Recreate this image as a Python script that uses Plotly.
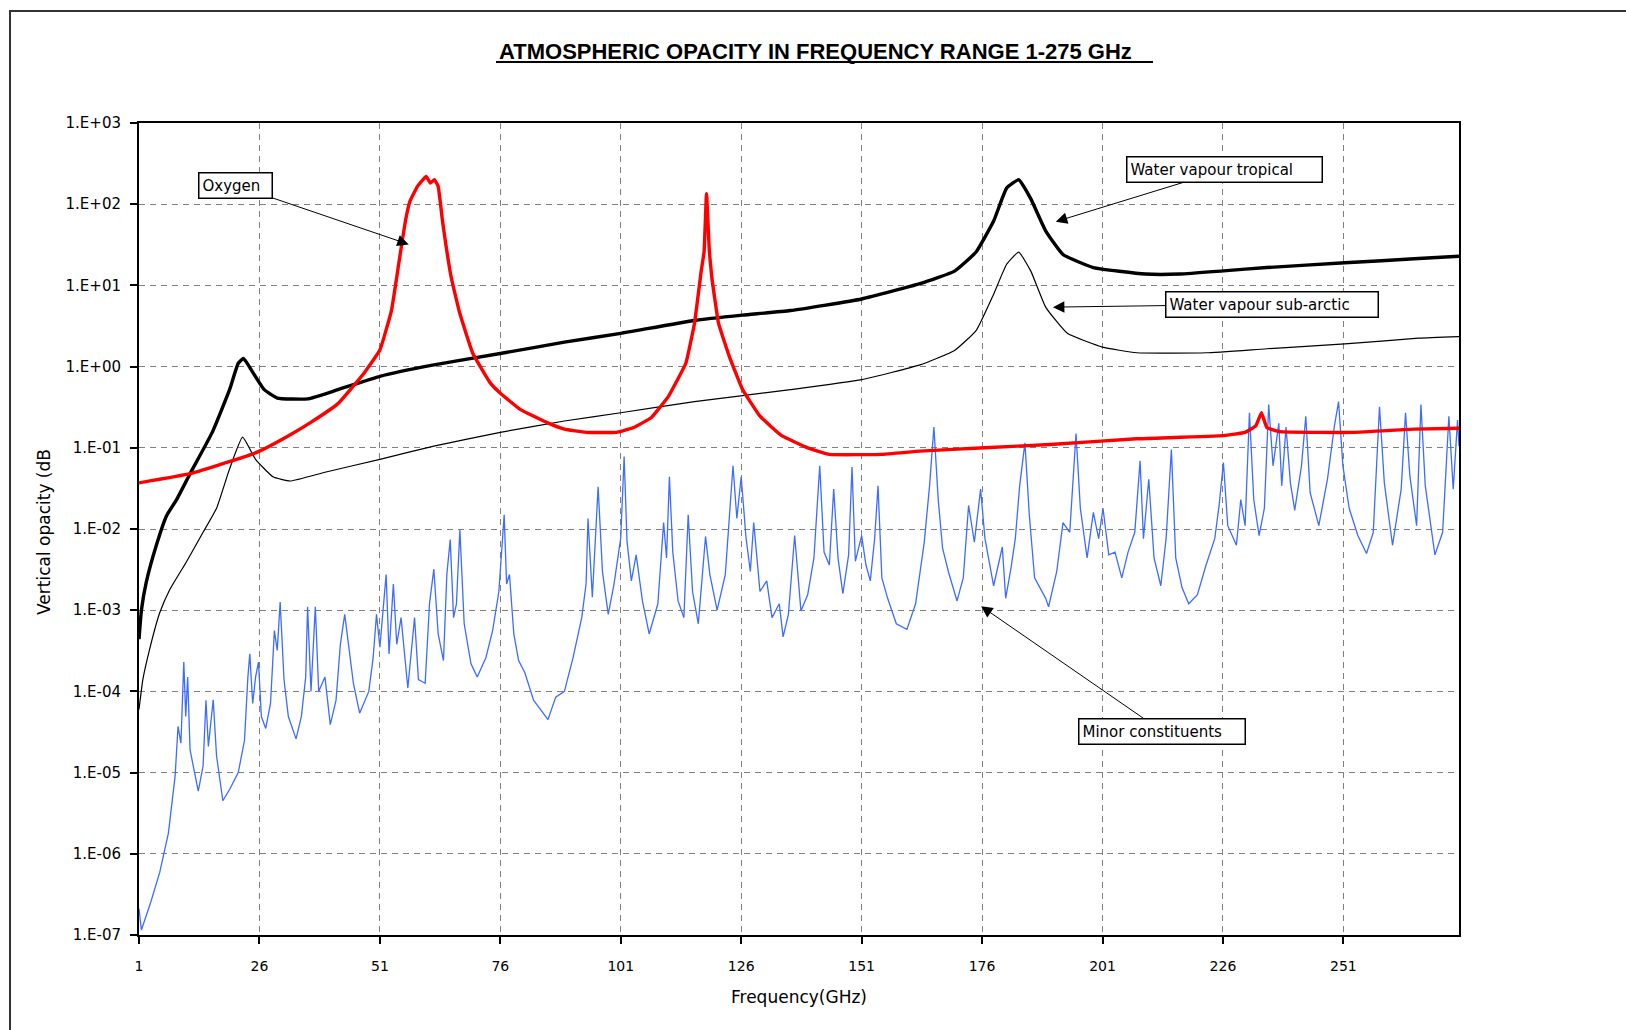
import math
import plotly.graph_objects as go

# ---------------- data ----------------
oxygen_f = [1, 11.6, 22.5, 26, 31.5, 36.9, 42.3, 47.7, 51, 53.4, 55.0, 56.3, 57.2, 58.8, 59.6,
            60.6, 61.5, 62.3, 63.1, 64, 65.8, 67.6, 70.3, 73.9, 76, 80.2, 85.7, 89.3, 93.8,
            100.1, 103.7, 107.3, 110.9, 114.5, 116.3, 117.7, 118.3, 118.8, 119.4, 119.9,
            121.3, 123.6, 126.3, 129.9, 134.4, 139.8, 144.3, 155, 163.1, 176.6, 190.1, 208.1,
            226.1, 230.6, 232.8, 234, 235.1, 237.8, 253.1, 265.7, 275]
oxygen_v = [3.7e-2, 4.8e-2, 7.6e-2, 9.1e-2, 0.135, 0.21, 0.35, 0.83, 1.6, 4.9, 20, 62, 107, 166, 190,
            219, 182, 200, 166, 62, 12.6, 4.5, 1.45, 0.63, 0.47, 0.295, 0.204, 0.17, 0.155,
            0.155, 0.178, 0.234, 0.43, 1.1, 3.4, 15, 26, 135, 26, 12.6,
            3.4, 1.3, 0.52, 0.245, 0.141, 0.10, 0.083, 0.083, 0.091, 0.100, 0.11, 0.129,
            0.141, 0.155, 0.186, 0.27, 0.178, 0.158, 0.155, 0.17, 0.174]

tropical_f = [1, 1.5, 2.5, 4.6, 6.7, 8.8, 11.6, 16.2, 19.8, 21.6, 22.7, 24.3, 27, 29.7, 36, 42.3,
              51, 62.2, 76, 89.3, 101, 116.3, 126.3, 136.2, 151, 163.1, 170.3, 174.8, 178.4,
              181.1, 183.6, 186.1, 189.2, 192.8, 199.1, 209.9, 217.1, 226.1, 235.1, 251.3,
              266.6, 275]
tropical_v = [4.4e-4, 1.0e-3, 2.2e-3, 6.3e-3, 1.45e-2, 2.3e-2, 4.8e-2, 0.155, 0.52, 1.1, 1.26, 0.91,
              0.52, 0.41, 0.40, 0.52, 0.76, 1.05, 1.45, 2.0, 2.57, 3.7, 4.3, 4.9, 6.8, 10.5, 15,
              26, 62, 158, 200, 117, 47, 24, 16.6, 13.8, 13.8, 15.1, 16.6, 19, 21.4, 22.9]

subarctic_f = [1, 1.8, 3.2, 5.3, 7.4, 10.8, 14.3, 17.1, 19.8, 22.5, 25.2, 28.8, 32.4, 39.6, 51,
               62.2, 76, 89.3, 101, 116.3, 126.3, 136.2, 151, 163.1, 170.3, 174.8, 178.4, 181.1,
               183.6, 186.1, 189.2, 193.7, 201, 208.1, 222.5, 235.1, 251.3, 266.6, 275]
subarctic_v = [6.0e-5, 1.4e-4, 3.3e-4, 9.3e-4, 1.8e-3, 3.9e-3, 9.1e-3, 1.8e-2, 5.5e-2, 0.135,
               7.2e-2, 4.4e-2, 3.9e-2, 5.0e-2, 7.2e-2, 0.105, 0.155, 0.214, 0.27, 0.37, 0.44,
               0.52, 0.69, 1.05, 1.58, 2.8, 7.8, 18.2, 25.7, 15.1, 5.4, 2.57, 1.74, 1.48, 1.48,
               1.66, 1.9, 2.24, 2.34]

minor_f = [1, 1.5, 3.5, 5.3, 7.1, 8.5, 9.1, 9.7, 10.3, 10.7, 11.1, 11.6, 13.3, 14.3, 14.9, 15.4,
           16.4, 17.1, 18.4, 19.8, 21.6, 22.9, 23.6, 24, 24.6, 25.2, 25.8, 26.4, 27.3, 28.3,
           29.1, 29.7, 30.3, 31.1, 32, 33.6, 34.7, 35.6, 36, 36.7, 37.6, 38.3, 39.6, 40.7,
           41.9, 42.8, 43.7, 44.6, 45.5, 46.8, 48.7, 49.6, 50.3, 51, 52.3, 52.9, 53.8, 54.5,
           55.4, 56.8, 58.2, 59, 60.4, 61.3, 62.2, 63.1, 64.2, 64.9, 65.6, 66.3, 66.9, 67.6,
           68.5, 69.9, 71.2, 73, 74.4, 75.7, 76.4, 76.8, 77.3, 77.9, 78.8, 79.8, 81.1, 82.9,
           85.9, 87.5, 89.3, 91.1, 92.9, 93.8, 94.2, 95.1, 96.3, 97.2, 98.4, 99.6, 101, 101.7,
           102.3, 103.2, 104.2, 105.5, 106.9, 108.7, 109.9, 110.5, 111.1, 111.8, 112.9, 114.1,
           115, 115.9, 117.1, 118.6, 119.5, 121, 122.7, 124.3, 125.1, 126, 127, 127.9, 128.6,
           129.9, 131.3, 132.4, 133.9, 134.7, 135.8, 137.1, 138.4, 139.8, 141.1, 142.3, 143.2,
           144.3, 145.2, 146.1, 147.1, 148.3, 149, 149.7, 151, 151.9, 152.8, 153.7, 154.4,
           155.2, 156.4, 158.2, 160.4, 162.2, 164, 165.1, 166, 166.9, 167.8, 169, 170.8, 172.1,
           173.2, 174.4, 175.7, 176.6, 178.4, 180.2, 180.9, 182, 182.9, 183.8, 184.9, 185.8,
           186.9, 189.2, 189.8, 191.5, 192.8, 194.2, 195.5, 196.4, 197.8, 199.1, 200.2, 201.1,
           202.3, 203.6, 205, 206.3, 207.7, 208.8, 209.5, 210.6, 211.7, 213.1, 214.2, 215.3,
           216.2, 217.5, 218.9, 220.7, 222.5, 224.3, 225.2, 226.1, 227, 228.8, 229.7, 230.6,
           231.5, 232.4, 233.5, 234.6, 235.5, 236.4, 237.6, 238.2, 239.1, 240, 240.9, 242.3,
           243.2, 244.1, 245.9, 247.7, 249.1, 250, 250.9, 252.2, 254, 255.8, 257.2, 258.5,
           259.5, 261.2, 263, 263.9, 264.8, 266.2, 267.1, 268, 270, 271.6, 272.9, 273.8, 274.7,
           275]
minor_v = [2.1e-7, 1.15e-7, 2.6e-7, 5.9e-7, 1.8e-6, 9.1e-6, 3.7e-5, 2.3e-5, 2.3e-4, 4.9e-5, 1.5e-4,
           1.9e-5, 5.9e-6, 1.2e-5, 7.8e-5, 2.1e-5, 7.9e-5, 1.6e-5, 4.5e-6, 6.2e-6, 1.0e-5, 2.5e-5,
           1.5e-4, 2.9e-4, 7.1e-5, 1.5e-4, 2.3e-4, 4.9e-5, 3.5e-5, 7.1e-5, 5.6e-4, 3.2e-4, 1.26e-3,
           1.4e-4, 4.9e-5, 2.6e-5, 4.9e-5, 1.5e-4, 1.1e-3, 1.0e-4, 1.1e-3, 1.0e-4, 1.5e-4, 3.9e-5,
           7.8e-5, 3.8e-4, 8.9e-4, 3.2e-4, 1.26e-4, 5.4e-5, 1.0e-4, 2.6e-4, 8.9e-4, 3.5e-4,
           2.75e-3, 2.9e-4, 2.1e-3, 3.8e-4, 8.1e-4, 1.1e-4, 8.1e-4, 1.4e-4, 1.26e-4, 1.2e-3,
           3.2e-3, 5.1e-4, 2.4e-4, 2.75e-3, 7.4e-3, 8.1e-4, 1.2e-3, 9.8e-3, 6.8e-4, 2.2e-4,
           1.5e-4, 2.6e-4, 5.6e-4, 1.7e-3, 7.8e-3, 1.5e-2, 2.1e-3, 2.75e-3, 5.1e-4, 2.4e-4,
           1.7e-4, 7.8e-5, 4.5e-5, 8.5e-5, 1.0e-4, 2.6e-4, 8.1e-4, 2.1e-3, 1.35e-2, 1.45e-3,
           3.3e-2, 3.0e-3, 8.9e-4, 2.1e-3, 7.8e-3, 7.8e-2, 7.1e-3, 2.3e-3, 4.8e-3, 1.3e-3,
           5.1e-4, 1.2e-3, 1.2e-2, 4.4e-3, 4.4e-2, 5.2e-3, 1.3e-3, 8.1e-4, 1.5e-2, 1.7e-3,
           6.8e-4, 8.1e-3, 2.75e-3, 1.0e-3, 2.75e-3, 6.0e-2, 1.35e-2, 4.4e-2, 7.8e-3, 3.0e-3,
           1.2e-2, 1.7e-3, 2.3e-3, 8.1e-4, 1.2e-3, 4.7e-4, 8.9e-4, 8.3e-3, 9.8e-4, 1.55e-3,
           4.4e-3, 6.0e-2, 5.2e-3, 3.6e-3, 3.1e-2, 4.4e-3, 1.6e-3, 4.8e-3, 5.8e-2, 4.0e-3,
           8.3e-3, 3.6e-3, 2.3e-3, 7.6e-3, 3.4e-2, 2.5e-3, 1.4e-3, 6.8e-4, 5.8e-4, 1.2e-3,
           6.9e-3, 3.4e-2, 0.18, 2.3e-2, 5.8e-3, 3.0e-3, 1.3e-3, 2.5e-3, 1.95e-2, 6.9e-3,
           3.1e-2, 7.6e-3, 2.0e-3, 6.0e-3, 1.4e-3, 3.3e-3, 7.6e-3, 3.4e-2, 0.115, 1.5e-2,
           2.5e-3, 1.4e-3, 1.1e-3, 3.0e-3, 1.2e-2, 9.1e-3, 0.15, 1.8e-2, 4.4e-3, 1.6e-2,
           7.6e-3, 1.8e-2, 4.8e-3, 5.2e-3, 2.5e-3, 5.2e-3, 9.1e-3, 6.9e-2, 7.6e-3, 4.1e-2,
           4.4e-3, 2.0e-3, 7.6e-3, 9.5e-2, 4.4e-3, 1.9e-3, 1.2e-3, 1.55e-3, 3.6e-3, 7.6e-3,
           1.95e-2, 6.6e-2, 1.1e-2, 6.3e-3, 2.3e-2, 1.1e-2, 0.27, 2.3e-2, 8.3e-3, 1.8e-2,
           0.34, 6.0e-2, 0.2, 3.4e-2, 0.18, 3.7e-2, 1.7e-2, 6.0e-2, 0.245, 2.8e-2, 1.1e-2,
           4.1e-2, 0.18, 0.37, 6.0e-2, 1.8e-2, 8.3e-3, 5.0e-3, 9.1e-3, 0.32, 3.7e-2, 6.3e-3,
           3.1e-2, 0.27, 4.5e-2, 1.1e-2, 0.34, 3.4e-2, 4.8e-3, 9.1e-3, 0.245, 3.1e-2, 0.22,
           0.105]

x_ticks = [1, 26, 51, 76, 101, 126, 151, 176, 201, 226, 251]
y_ticks = [1e-7, 1e-6, 1e-5, 1e-4, 1e-3, 1e-2, 1e-1, 1e0, 1e1, 1e2, 1e3]
y_ticktext = ["1.E-07", "1.E-06", "1.E-05", "1.E-04", "1.E-03", "1.E-02", "1.E-01",
              "1.E+00", "1.E+01", "1.E+02", "1.E+03"]

# callout labels: text, arrow-head frequency, arrow-head opacity
label_text = ["Oxygen", "Water vapour tropical", "Water vapour sub-arctic", "Minor constituents"]
label_head_f = [57.0, 191.3, 190.7, 175.8]
label_head_v = [32, 61, 5.4, 1.12e-3]

FONT = "DejaVu Sans, Verdana, sans-serif"

fig = go.Figure()
fig.add_trace(go.Scatter(x=minor_f, y=minor_v, mode="lines", name="Minor constituents",
                         line=dict(color="#3d6cff", width=1.3)))
fig.add_trace(go.Scatter(x=subarctic_f, y=subarctic_v, mode="lines", name="Water vapour sub-arctic",
                         line=dict(color="black", width=1.2, shape="spline", smoothing=0.4)))
fig.add_trace(go.Scatter(x=tropical_f, y=tropical_v, mode="lines", name="Water vapour tropical",
                         line=dict(color="black", width=3.4, shape="spline", smoothing=0.4)))
fig.add_trace(go.Scatter(x=oxygen_f, y=oxygen_v, mode="lines", name="Oxygen",
                         line=dict(color="#ff0000", width=3.4, shape="spline", smoothing=0.3)))

W, H = 1626, 1030
L_, R_, T_, B_ = 139, 167, 123, 95
pw, ph = W - L_ - R_, H - T_ - B_


def px(x):
    return (x - L_) / pw


def py(y):
    return (H - B_ - y) / ph


fig.update_layout(
    width=W, height=H,
    margin=dict(l=L_, r=R_, t=T_, b=B_, pad=0),
    paper_bgcolor="white", plot_bgcolor="white",
    showlegend=False,
    font=dict(family=FONT, color="black", size=15),
    xaxis=dict(type="linear", range=[1, 275], tickmode="array", tickvals=x_ticks,
               ticktext=[str(t) for t in x_ticks], ticks="outside", ticklen=7, tickwidth=2,
               tickcolor="black", showline=True, linecolor="black", linewidth=2, mirror=True,
               showgrid=True, gridcolor="#808080", gridwidth=1.2, griddash="6px,5px",
               zeroline=False, tickfont=dict(size=14, family=FONT), ticklabelstandoff=10),
    yaxis=dict(type="log", range=[-7, 3], tickmode="array", tickvals=y_ticks,
               ticktext=y_ticktext, ticks="outside", ticklen=7, tickwidth=2, tickcolor="black",
               showline=True, linecolor="black", linewidth=2, mirror=True,
               showgrid=True, gridcolor="#808080", gridwidth=1.2, griddash="6px,5px",
               zeroline=False, tickfont=dict(size=15, family=FONT), ticklabelstandoff=6),
)

# outer chart-area border
fig.add_shape(type="rect", xref="paper", yref="paper",
              x0=px(10), x1=px(1660), y0=py(1060), y1=py(11),
              line=dict(color="#333333", width=2), fillcolor="rgba(0,0,0,0)", layer="below")

# title with underline
fig.add_annotation(xref="paper", yref="paper", x=px(815), y=py(51),
                   text="<b>ATMOSPHERIC OPACITY IN FREQUENCY RANGE 1-275 GHz</b>",
                   showarrow=False, font=dict(family="Liberation Sans, Arial, sans-serif",
                                              size=22, color="black"),
                   xanchor="center", yanchor="middle")
fig.add_shape(type="line", xref="paper", yref="paper", x0=px(496), x1=px(1153),
              y0=py(62), y1=py(62), line=dict(color="black", width=2))

# axis titles
fig.add_annotation(xref="paper", yref="paper", x=px(44), y=py(532),
                   text="Vertical opacity (dB", textangle=-90, showarrow=False,
                   font=dict(size=17, family=FONT), xanchor="center", yanchor="middle")
fig.add_annotation(xref="paper", yref="paper", x=px(799), y=py(997),
                   text="Frequency(GHz)", showarrow=False,
                   font=dict(size=17, family=FONT), xanchor="center", yanchor="middle")

# labelled arrows (pixel offsets of the boxes and box widths are layout, not data)
label_offsets = [(-173, -59, 66), (169, -52, 188), (219, -3, 205), (181, 125, 159)]
for text, hf, hv, (ax, ay, bw) in zip(label_text, label_head_f, label_head_v, label_offsets):
    fig.add_annotation(x=hf, y=math.log10(hv), xref="x", yref="y", text=text, showarrow=True,
                       ax=ax, ay=ay, arrowhead=2, arrowsize=2.3, arrowwidth=1,
                       arrowcolor="black", bgcolor="white", bordercolor="black",
                       borderwidth=1.5, borderpad=3, width=bw, align="left",
                       font=dict(size=15, family=FONT, color="black"))

fig.write_html("out.html", config={"displayModeBar": False},
               post_script="document.body.style.margin='0';document.body.style.overflow='hidden';")
